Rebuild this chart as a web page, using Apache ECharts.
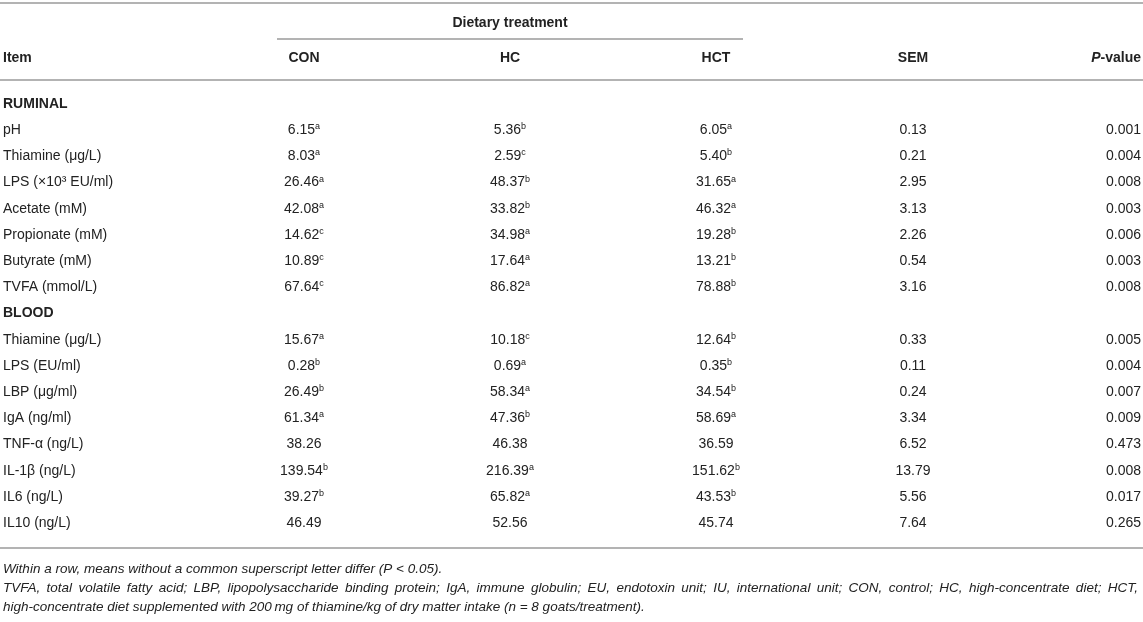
<!DOCTYPE html>
<html>
<head>
<meta charset="utf-8">
<script src="https://cdn.jsdelivr.net/npm/echarts@6/dist/echarts.min.js"></script>
<style>
  html, body { margin: 0; padding: 0; background: #fff; }
  #main { width: 1143px; height: 622px; }
</style>
</head>
<body>
<div id="main"></div>
<script>
// table content
var columns = ['Item', 'CON', 'HC', 'HCT', 'SEM', 'P-value'];
var ruminalItems = ['pH', 'Thiamine (\u03bcg/L)', 'LPS (\u00d710\u00b3 EU/ml)', 'Acetate (mM)', 'Propionate (mM)', 'Butyrate (mM)', 'TVFA (mmol/L)'];
var bloodItems = ['Thiamine (\u03bcg/L)', 'LPS (EU/ml)', 'LBP (\u03bcg/ml)', 'IgA (ng/ml)', 'TNF-\u03b1 (ng/L)', 'IL-1\u03b2 (ng/L)', 'IL6 (ng/L)', 'IL10 (ng/L)'];

var conValues = ['6.15', '8.03', '26.46', '42.08', '14.62', '10.89', '67.64', '15.67', '0.28', '26.49', '61.34', '38.26', '139.54', '39.27', '46.49'];
var conLetters = ['a', 'a', 'a', 'a', 'c', 'c', 'c', 'a', 'b', 'b', 'a', '', 'b', 'b', ''];
var hcValues = ['5.36', '2.59', '48.37', '33.82', '34.98', '17.64', '86.82', '10.18', '0.69', '58.34', '47.36', '46.38', '216.39', '65.82', '52.56'];
var hcLetters = ['b', 'c', 'b', 'b', 'a', 'a', 'a', 'c', 'a', 'a', 'b', '', 'a', 'a', ''];
var hctValues = ['6.05', '5.40', '31.65', '46.32', '19.28', '13.21', '78.88', '12.64', '0.35', '34.54', '58.69', '36.59', '151.62', '43.53', '45.74'];
var hctLetters = ['a', 'b', 'a', 'a', 'b', 'b', 'b', 'b', 'b', 'b', 'a', '', 'b', 'b', ''];
var semValues = ['0.13', '0.21', '2.95', '3.13', '2.26', '0.54', '3.16', '0.33', '0.11', '0.24', '3.34', '6.52', '13.79', '5.56', '7.64'];
var pValues = ['0.001', '0.004', '0.008', '0.003', '0.006', '0.003', '0.008', '0.005', '0.004', '0.007', '0.009', '0.473', '0.008', '0.017', '0.265'];

var footnotes = [
  'Within a row, means without a common superscript letter differ (P < 0.05).',
  'TVFA, total volatile fatty acid; LBP, lipopolysaccharide binding protein; IgA, immune globulin; EU, endotoxin unit; IU, international unit; CON, control; HC, high-concentrate diet; HCT,',
  'high-concentrate diet supplemented with 200\u2009mg of thiamine/kg of dry matter intake (n = 8 goats/treatment).'
];
var footJustify = [false, true, false];

// layout (x in px, y in row units; row 0 = RUMINAL)
var colX = [3, 304, 510, 716, 913, 1141];
var colAlign = ['left', 'center', 'center', 'center', 'center', 'right'];
var yMin = -3.97, yMax = 19.77;
var yTopRule = -3.86, yGroupLabel = -3.1, yGroupRule = -2.48, yHeader = -1.76, yHeaderRule = -0.92, yBottomRule = 16.95;
var footY = [17.75, 18.47, 19.2];
var footRight = 1138;
var groupX = [277, 743];

var FONT = '"Liberation Sans", Arial, Helvetica, sans-serif';
var FOOT_FONT = 'italic 13.5px ' + FONT;
var TXT = '#222';
var RULE = '#b3b3b3';

// build cells: [col, row, kind, text, sup, justify]
var cells = [];
var rowLabels = ['RUMINAL'].concat(ruminalItems, ['BLOOD'], bloodItems);
var dataIdx = 0;
rowLabels.forEach(function (label, r) {
  if (r === 0 || r === ruminalItems.length + 1) {
    cells.push([0, r, 'section', label, '']);
    return;
  }
  var i = dataIdx++;
  cells.push([0, r, 'label', label, '']);
  cells.push([1, r, 'value', conValues[i], conLetters[i]]);
  cells.push([2, r, 'value', hcValues[i], hcLetters[i]]);
  cells.push([3, r, 'value', hctValues[i], hctLetters[i]]);
  cells.push([4, r, 'value', semValues[i], '']);
  cells.push([5, r, 'value', pValues[i], '']);
});
columns.forEach(function (c, k) {
  cells.push([k, yHeader, 'header', c, '']);
});
cells.push([-1, yGroupLabel, 'group', 'Dietary treatment', '']);
footnotes.forEach(function (f, k) {
  cells.push([0, footY[k], 'foot', f, '', footJustify[k]]);
});

var rich = {
  n: { fontSize: 14, fontFamily: FONT, fill: TXT, lineHeight: 18 },
  s: { fontSize: 9, fontFamily: FONT, fill: TXT, lineHeight: 18, verticalAlign: 'top', padding: [1, 0, 0, 0] },
  b: { fontSize: 14, fontFamily: FONT, fontWeight: 'bold', fill: TXT, lineHeight: 18 },
  bi: { fontSize: 14, fontFamily: FONT, fontWeight: 'bold', fontStyle: 'italic', fill: TXT, lineHeight: 18 }
};

function cellText(kind, text, sup) {
  if (kind === 'header' && text === 'P-value') return '{bi|P}{b|-value}';
  if (kind === 'header' || kind === 'section' || kind === 'group') return '{b|' + text + '}';
  if (sup) return '{n|' + text + '}{s|' + sup + '}';
  return '{n|' + text + '}';
}

var measureCtx = document.createElement('canvas').getContext('2d');
function textWidth(str, font) {
  measureCtx.font = font;
  return measureCtx.measureText(str).width;
}

function footStyle(text, align) {
  return { text: text, font: FOOT_FONT, fill: TXT, align: align || 'left', verticalAlign: 'middle' };
}

function renderCell(params, api) {
  var col = api.value(0);
  var c = cells[params.dataIndex];
  var x = col < 0 ? (groupX[0] + groupX[1]) / 2 : colX[col];
  var align = col < 0 ? 'center' : colAlign[col];
  var p = api.coord([x, api.value(1)]);
  if (c[2] === 'foot') {
    if (!c[5]) return { type: 'text', x: p[0], y: p[1], style: footStyle(c[3]) };
    // justified line: spread the words up to the right edge
    var words = c[3].split(' ');
    var widths = words.map(function (w) { return textWidth(w, FOOT_FONT); });
    var total = widths.reduce(function (a, b) { return a + b; }, 0);
    var right = api.coord([footRight, 0])[0];
    var gap = (right - p[0] - total) / (words.length - 1);
    var cx = p[0];
    var children = words.map(function (w, k) {
      var el = { type: 'text', x: cx, y: p[1], style: footStyle(w) };
      cx += widths[k] + gap;
      return el;
    });
    return { type: 'group', children: children };
  }
  return {
    type: 'text',
    x: p[0],
    y: p[1],
    style: {
      text: cellText(c[2], c[3], c[4]),
      rich: rich,
      align: align,
      verticalAlign: 'middle'
    }
  };
}

var rules = [
  [0, 1143, yTopRule],
  [groupX[0], groupX[1], yGroupRule],
  [0, 1143, yHeaderRule],
  [0, 1143, yBottomRule]
];

function renderRule(params, api) {
  var a = api.coord([api.value(0), api.value(2)]);
  var b = api.coord([api.value(1), api.value(2)]);
  return {
    type: 'line',
    shape: { x1: a[0], y1: a[1], x2: b[0], y2: b[1] },
    style: { stroke: RULE, lineWidth: 2 }
  };
}

var chart = echarts.init(document.getElementById('main'));
chart.setOption({
  backgroundColor: '#fff',
  animation: false,
  grid: { left: 0, right: 0, top: 0, bottom: 0 },
  xAxis: { type: 'value', min: 0, max: 1143, show: false },
  yAxis: { type: 'value', min: yMin, max: yMax, inverse: true, show: false },
  series: [
    {
      type: 'custom',
      renderItem: renderRule,
      data: rules,
      silent: true
    },
    {
      type: 'custom',
      renderItem: renderCell,
      data: cells.map(function (c) { return [c[0], c[1]]; }),
      silent: true
    }
  ]
});
</script>
</body>
</html>
